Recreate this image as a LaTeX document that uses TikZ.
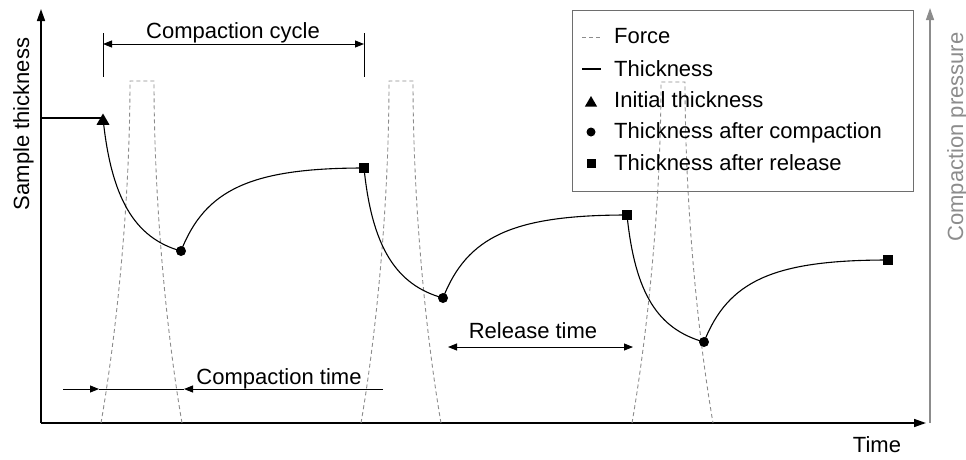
\documentclass[tikz,border=0pt]{standalone}
\usepackage{fontspec}
\setmainfont{Liberation Sans}
\usetikzlibrary{arrows.meta,shapes.geometric}
\definecolor{pgray}{HTML}{8C8C8C}
\definecolor{boxgray}{HTML}{6E6E6E}
\begin{document}
\begin{tikzpicture}[x=1pt,y=-1pt,font=\fontsize{22}{26}\selectfont,
  axisline/.style={line width=1.6pt,-{Triangle[length=12pt,width=8pt]}},
  thk/.style={line width=1.1pt},
  force/.style={draw=pgray,line width=0.9pt,dash pattern=on 4pt off 3pt},
  dimline/.style={line width=0.9pt},
  dimtip/.style={-{Triangle[length=9pt,width=7pt]}},
  dimboth/.style={{Triangle[length=9pt,width=7pt]}-{Triangle[length=9pt,width=7pt]}},
  tri/.style={regular polygon,regular polygon sides=3,fill,inner sep=0pt,minimum size=15pt},
  dot/.style={circle,fill,inner sep=0pt,minimum size=10pt},
  sq/.style={rectangle,fill,inner sep=0pt,minimum size=10pt},
  lbl/.style={anchor=base,inner sep=0pt},
  leg/.style={anchor=base west,inner sep=0pt}]
\useasboundingbox (0,0) rectangle (966,459);

% axes
\coordinate (O) at (41,423);
\coordinate (Ytop) at (41,9);
\coordinate (Xend) at (926,423);
\coordinate (R0) at (930,423);
\coordinate (Rtop) at (930,8);
\draw[axisline] (O) -- (Ytop);
\draw[axisline] (O) -- (Xend);
\draw[axisline,draw=pgray,fill=pgray,line width=1.4pt] (R0) -- (Rtop);

\node[lbl,rotate=90] (ylab) at (29,124) {Sample thickness};
\node[lbl,rotate=90,text=pgray] (rlab) at (963,137) {Compaction pressure};
\node[lbl] (xlab) at (877,452) {Time};

% force pulses
\draw[force] (101,423) .. controls (117,330) and (130,200) .. (130,81) -- (154,81) .. controls (154,200) and (166,330) .. (182,423);
\draw[force] (361,423) .. controls (377,330) and (389,200) .. (389,81) -- (413,81) .. controls (413,200) and (425,330) .. (441,423);
\draw[force] (632,423) .. controls (648,330) and (661,200) .. (661,82) -- (685,82) .. controls (685,200) and (697,330) .. (713,423);

% thickness curve
\coordinate (P0) at (41,118);
\coordinate (T1) at (103,118);
\coordinate (C1) at (181,251);
\coordinate (S1) at (364,168);
\coordinate (C2) at (443,298);
\coordinate (S2) at (627,215);
\coordinate (C3) at (704,342);
\coordinate (S3) at (888,260);
\draw[thk] (P0) -- (T1);
\draw[thk] (T1) .. controls (111,197) and (134,238) .. (C1);
\draw[thk] (C1) .. controls (205,190) and (250,168) .. (S1);
\draw[thk] (S1) .. controls (372,247) and (396,285) .. (C2);
\draw[thk] (C2) .. controls (467,237) and (512,215) .. (S2);
\draw[thk] (S2) .. controls (635,294) and (658,329) .. (C3);
\draw[thk] (C3) .. controls (728,281) and (773,260) .. (S3);

\node[tri] (mT1) at (103,121) {};
\node[dot] (mC1) at (C1) {};
\node[sq] (mS1) at (S1) {};
\node[dot] (mC2) at (C2) {};
\node[sq] (mS2) at (S2) {};
\node[dot] (mC3) at (C3) {};
\node[sq] (mS3) at (S3) {};

% compaction cycle
\coordinate (ccL0) at (103,33);
\coordinate (ccL1) at (103,77);
\coordinate (ccR0) at (364,33);
\coordinate (ccR1) at (364,77);
\coordinate (ccA) at (103,44);
\coordinate (ccB) at (364,44);
\draw[dimline] (ccL0) -- (ccL1);
\draw[dimline] (ccR0) -- (ccR1);
\draw[dimline,dimboth] (ccA) -- (ccB);
\node[lbl] (cclab) at (233,38) {Compaction cycle};

% compaction time
\coordinate (ctL) at (63,389);
\coordinate (ctA) at (99,389);
\coordinate (ctB) at (184,389);
\coordinate (ctR) at (383,389);
\draw[dimline,dimtip] (ctL) -- (ctA);
\draw[dimline] (ctA) -- (ctB);
\draw[dimline,dimtip] (ctR) -- (ctB);
\node[lbl] (ctlab) at (279,384) {Compaction time};

% release time
\coordinate (rtA) at (448,347);
\coordinate (rtB) at (633,347);
\draw[dimline,dimboth] (rtA) -- (rtB);
\node[lbl] (rtlab) at (533,338) {Release time};

% legend
\node[draw=boxgray,line width=0.9pt,minimum width=341pt,minimum height=181pt,anchor=north west,inner sep=0pt] (legend) at (572,10) {};
\coordinate (lf0) at (582,37);
\coordinate (lf1) at (601,37);
\coordinate (lt0) at (582,69);
\coordinate (lt1) at (601,69);
\draw[force] (lf0) -- (lf1);
\draw[thk] (lt0) -- (lt1);
\node[tri,minimum size=14pt] (lgT) at (591,103) {};
\node[dot,minimum size=9pt] (lgC) at (591,132) {};
\node[sq,minimum size=9pt] (lgS) at (591,163) {};
\node[leg] (lg1) at (614,43) {Force};
\node[leg] (lg2) at (614,76) {Thickness};
\node[leg] (lg3) at (614,107) {Initial thickness};
\node[leg] (lg4) at (614,138) {Thickness after compaction};
\node[leg] (lg5) at (614,170) {Thickness after release};
\end{tikzpicture}
\end{document}
